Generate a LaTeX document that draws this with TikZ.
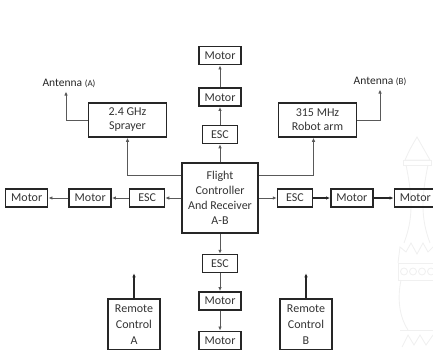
\documentclass[tikz,border=0pt]{standalone}
\usepackage{fontspec}
\setmainfont{Carlito}
\usetikzlibrary{arrows.meta,positioning,calc}

\begin{document}
\begin{tikzpicture}[
    x=1pt, y=1pt,
    node distance=18pt,
    font=\fontsize{12}{15}\selectfont,
    box/.style={rectangle, draw=black!85, line width=1.5pt, text=black!80, align=center, inner sep=0pt},
    motor/.style={box, minimum width=42pt, minimum height=18pt},
    esc/.style={box, line width=1.3pt, minimum width=35pt, minimum height=18pt},
    radio/.style={box, minimum width=78pt, minimum height=34pt, font=\fontsize{12}{14}\selectfont},
    remote/.style={box, minimum width=52pt, minimum height=51pt, font=\fontsize{12}{16}\selectfont},
    lbl/.style={text=black!85, inner sep=1pt, font=\fontsize{11.5}{14}\selectfont},
    arrow/.style={-{Latex[length=4pt,width=3.5pt]}, draw=black!65, line width=0.8pt},
    bold/.style={arrow, draw=black!85, line width=1.6pt},
    emblem/.style={draw=black!6, line width=0.9pt}
]
    \useasboundingbox (0,0) rectangle (433,349);

    % faint emblem in the background
    \draw[emblem] (405,189) .. controls (410,200) .. (417,212) .. controls (424,200) .. (430,189) -- cycle;
    \draw[emblem] (403,184) rectangle (431,189);
    \draw[emblem] (406,184) .. controls (413,150) and (413,130) .. (404,106);
    \draw[emblem] (428,184) .. controls (421,150) and (421,130) .. (430,106);
    \draw[emblem] (398,86) -- (400,102) -- (406,97) -- (411,106) -- (417,95) -- (423,106) -- (428,97) -- (433,102);
    \draw[emblem] (398,69) rectangle (440,86);
    \foreach \cx in {404,413,422,431}
        \draw[emblem] (\cx,77.5) circle (3.5);
    \draw[emblem] (401,69) .. controls (396,45) and (402,28) .. (408,19);
    \draw[emblem] (400,19) -- (433,19);
    \draw[emblem] (402,2) -- (408,14) -- (414,4) -- (420,14) -- (426,4) -- (433,14);

    \node[box, minimum width=76pt, minimum height=70pt] (fc) at (220,151) {Flight\\Controller\\And Receiver\\A-B};

    \node[esc, above=of fc] (escT) {ESC};
    \node[motor, above=of escT] (motT) {Motor};
    \node[motor, above=22pt of motT] (motTT) {Motor};

    \node[esc, left=16pt of fc] (escL) {ESC};
    \node[motor, left=17pt of escL] (motL) {Motor};
    \node[motor, left=20pt of motL] (motLL) {Motor};

    \node[esc, right=18pt of fc] (escR) {ESC};
    \node[motor, right=17pt of escR] (motR) {Motor};
    \node[motor, right=20pt of motR] (motRR) {Motor};

    \node[esc, below=20pt of fc] (escB) {ESC};
    \node[motor, below=of escB] (motB) {Motor};
    \node[motor, below=20pt of motB] (motBB) {Motor};

    \node[radio] (spray) at (127.5,229) {2.4 GHz\\Sprayer};
    \node[radio] (robot) at (317.5,229) {315 MHz\\Robot arm};
    \node[lbl] (antA) at (69,266) {Antenna {\small(A)}};
    \node[lbl] (antB) at (380,268) {Antenna {\small(B)}};

    \node[remote] (rcA) at (134,24.5) {Remote\\Control\\A};
    \node[remote] (rcB) at (306,24.5) {Remote\\Control\\B};
    \coordinate[above=25pt of rcA.north] (rcAup);
    \coordinate[above=25pt of rcB.north] (rcBup);

    \draw[arrow] (fc) -- (escT);
    \draw[arrow] (escT) -- (motT);
    \draw[arrow] (motT) -- (motTT);

    \draw[arrow] (fc) -- (escL);
    \draw[arrow] (escL) -- (motL);
    \draw[arrow] (motL) -- (motLL);

    \draw[arrow] (fc) -- (escR);
    \draw[bold] (escR) -- (motR);
    \draw[bold] (motR) -- (motRR);

    \draw[arrow] (fc) -- (escB);
    \draw[arrow] (escB) -- (motB);
    \draw[arrow] (motB) -- (motBB);

    \draw[arrow] ([yshift=23pt]fc.west) -| (spray.south);
    \draw[arrow] ([yshift=23pt]fc.east) -| ([xshift=-4pt]robot.south);
    \draw[arrow] (spray.west) -| ([xshift=-3pt,yshift=-3pt]antA.south);
    \draw[arrow] (robot.east) -| ([yshift=-3pt]antB.south);

    \draw[bold] (rcA) -- (rcAup);
    \draw[bold] (rcB) -- (rcBup);
\end{tikzpicture}
\end{document}
